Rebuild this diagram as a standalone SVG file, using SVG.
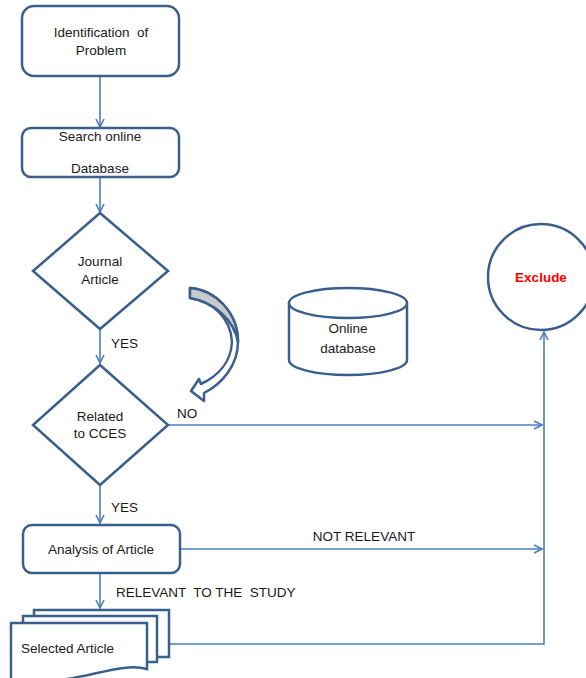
<svg xmlns="http://www.w3.org/2000/svg" width="586" height="678" viewBox="0 0 586 678">
<style>
.shape{fill:#fff;stroke:#3a5f8c;stroke-width:2.5}
.conn{fill:none;stroke:#4a7ebb;stroke-width:1.6}
text{font-family:"Liberation Sans",Arial,sans-serif;fill:#1a1a1a;font-size:13.5px}
.c{text-anchor:middle}
</style>
<defs>
<marker id="ah" viewBox="0 0 10 10" refX="9" refY="5" markerWidth="10" markerHeight="10" markerUnits="userSpaceOnUse" orient="auto">
<path d="M1,1 L9,5 L1,9" fill="none" stroke="#4a7ebb" stroke-width="1.6"/>
</marker>
</defs>
<rect width="586" height="678" fill="#fff"/>
<g id="connectors">
<path class="conn" d="M100,77 V127" marker-end="url(#ah)"/>
<path class="conn" d="M100,177 V212" marker-end="url(#ah)"/>
<path class="conn" d="M100,329 V363" marker-end="url(#ah)"/>
<path class="conn" d="M100,485 V523" marker-end="url(#ah)"/>
<path class="conn" d="M100,573 V608" marker-end="url(#ah)"/>
<path class="conn" d="M168,425 H542" marker-end="url(#ah)"/>
<path class="conn" d="M180,549 H542" marker-end="url(#ah)"/>
<path class="conn" d="M169,644 H544 V332" marker-end="url(#ah)"/>
<text x="111" y="348">YES</text>
<text x="177" y="418">NO</text>
<text x="111" y="512">YES</text>
<text x="364" y="541" class="c">NOT RELEVANT</text>
<text x="116" y="597" xml:space="preserve">RELEVANT  TO THE  STUDY</text>
</g>
<g id="identification">
<rect class="shape" x="22" y="6" width="157" height="70" rx="12"/>
<text x="101" y="37" class="c" font-size="13" xml:space="preserve">Identification  of</text>
<text x="101" y="55" class="c" font-size="13">Problem</text>
</g>
<g id="search">
<rect class="shape" x="22" y="128" width="157" height="49" rx="9"/>
<text x="100" y="141" class="c">Search online</text>
<text x="100" y="173" class="c">Database</text>
</g>
<g id="journal">
<path class="shape" d="M100,213 L168,271 L100,329 L33,271 Z"/>
<text x="100" y="266" class="c" font-size="13">Journal</text>
<text x="100" y="284" class="c" font-size="13">Article</text>
</g>
<g id="related">
<path class="shape" d="M100,365 L168,425 L100,485 L33,425 Z"/>
<text x="100" y="421" class="c" font-size="12">Related</text>
<text x="100" y="438" class="c" font-size="12">to CCES</text>
</g>
<g id="analysis">
<rect class="shape" x="23" y="525" width="157" height="48" rx="9"/>
<text x="101" y="554" class="c">Analysis of Article</text>
</g>
<g id="selected">
<rect class="shape" x="34" y="610" width="135" height="47"/>
<rect class="shape" x="23" y="616" width="134" height="46"/>
<path class="shape" d="M11,623 H147 V669 C115,660 70,690 11,679 Z"/>
<text x="21" y="653" font-size="12">Selected Article</text>
</g>
<g id="exclude">
<circle class="shape" cx="541" cy="277" r="53"/>
<text x="541" y="282" class="c" font-size="14" font-weight="bold" style="fill:#ff0000">Exclude</text>
</g>
<g id="online-database">
<path class="shape" d="M289,303 V360 A59,15 0 0 0 407,360 V303"/>
<ellipse class="shape" cx="348" cy="303" rx="59" ry="15"/>
<text x="348" y="333" class="c">Online</text>
<text x="348" y="353" class="c">database</text>
</g>
<g id="curved-arrow">
<path d="M190,288 C215,290 238,312 238,342 C238,365 222,384 204,393 L204,401 L191,391 L199,379 L201,384 C218,376 231,362 232,342 C231,318 212,301 190,298 Z" fill="#fff" stroke="#3a5f8c" stroke-width="2.5" stroke-linejoin="round"/>
<path d="M190,288 C215,290 238,312 238,342 C234,320 214,302 190,298 Z" fill="#c9c9c9" stroke="#3a5f8c" stroke-width="2.5" stroke-linejoin="round"/>
</g>
</svg>
